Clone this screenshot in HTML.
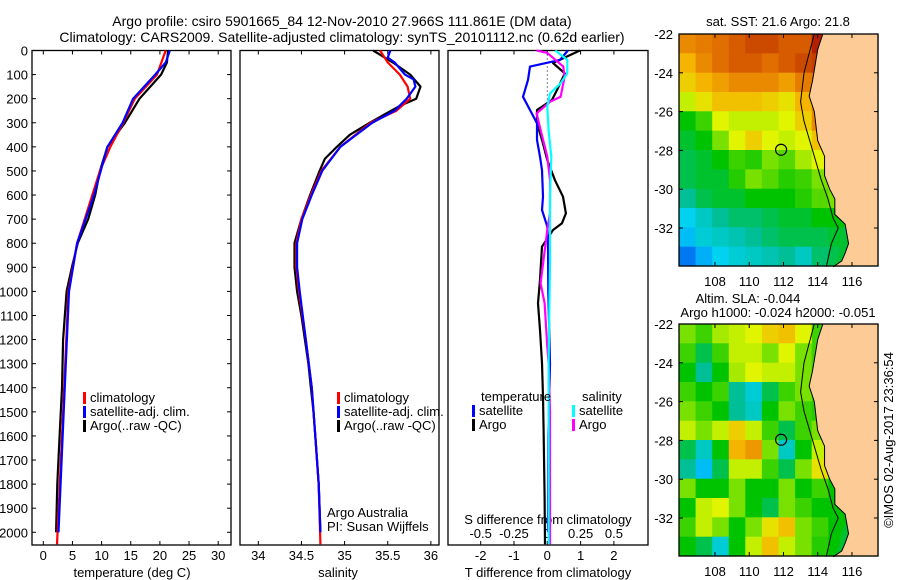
<!DOCTYPE html>
<html><head><meta charset="utf-8"><style>
html,body{margin:0;padding:0;background:#fff;}
svg{display:block;font-family:"Liberation Sans",sans-serif;}
text{fill:#000;}
</style></head><body>
<svg id="fig" width="900" height="580" viewBox="0 0 900 580" xmlns="http://www.w3.org/2000/svg">
<rect x="0" y="0" width="900" height="580" fill="#fff"/>
<text x="342" y="26" font-size="14" text-anchor="middle">Argo profile: csiro 5901665_84 12-Nov-2010 27.966S 111.861E (DM data)</text>
<text x="342" y="42" font-size="14" text-anchor="middle">Climatology: CARS2009. Satellite-adjusted climatology: synTS_20101112.nc (0.62d earlier)</text>
<g id="g1"></g>
<g id="g2"></g>
<g id="g3"></g>
<g id="m1"></g>
<g id="m2"></g>
<text transform="translate(893,440) rotate(-90)" font-size="13" text-anchor="middle">©IMOS 02-Aug-2017 23:36:54</text>
</svg>
<script>
// ---- profile data ----
const tempClimDepth = [0,100,200,300,400,500,800,1000,1500,2050];
const tempClim = [21.0,19.5,15.7,13.7,11.5,9.7,5.8,4.3,3.4,2.35];
const tempSatDepth = [0,50,100,200,300,400,600,800,1000,1500,2000];
const tempSat = [21.7,21.0,19.2,15.4,13.6,11.0,8.7,5.8,4.4,3.5,2.6];
const tempArgoDepth = [0,50,100,200,300,400,500,600,700,800,900,1000,1200,1400,1600,1800,2000];
const tempArgo = [21.4,21.2,20.2,16.5,14.0,11.0,9.7,8.9,7.7,5.9,4.9,4.0,3.4,3.2,2.8,2.4,2.2];

const salClimDepth = [0,50,100,150,200,250,300,400,500,600,700,800,900,1000,1200,1400,1600,1800,2050];
const salClim = [35.41,35.5,35.64,35.73,35.76,35.6,35.3,34.95,34.73,34.61,34.5,34.44,34.44,34.47,34.55,34.62,34.66,34.7,34.72];
const salSatDepth = [0,30,50,100,120,150,200,250,300,400,500,600,700,800,900,1000,1200,1400,1600,1800,2000];
const salSat = [35.53,35.5,35.58,35.7,35.8,35.82,35.72,35.58,35.32,34.95,34.74,34.62,34.51,34.45,34.45,34.48,34.55,34.62,34.66,34.7,34.72];
const salArgoDepth = [0,50,100,150,200,230,270,300,350,400,450,500,600,700,800,900,1000,1100,1200,1300,1400,1500,1600,1700,1800,1900,2000];
const salArgo = [35.33,35.56,35.76,35.88,35.83,35.64,35.44,35.29,35.06,34.91,34.77,34.71,34.6,34.5,34.42,34.42,34.45,34.5,34.54,34.58,34.61,34.64,34.66,34.68,34.7,34.71,34.72];

const dTSatDepth = [0,39,67,122,192,247,302,371,441,496,607,662,731,800,1000,1300,1600,2000];
const dTSat = [0.62,0.38,-0.52,-0.58,-0.73,-0.52,-0.31,-0.31,-0.22,-0.16,-0.13,-0.16,0,0.02,0.03,0.08,0.03,0.02];
const dTArgoDepth = [0,52,95,164,205,247,302,371,455,539,607,676,717,745,814,952,1049,1160,1297,1438,1576,1853,2050];
const dTArgo = [0.98,0.17,0.53,0.29,0.14,-0.31,-0.31,-0.16,0,0.23,0.47,0.56,0.44,0.17,-0.16,-0.22,-0.28,-0.22,-0.16,-0.13,-0.11,-0.08,-0.07];
const dSSatDepth = [0,39,95,136,178,233,330,441,607,883,1297,1600,2050];
const dSSat = [0.06,0.15,0.15,0.1,0.02,0,0.01,0.03,0.02,0.02,0.01,0.01,0.01];
const dSArgoDepth = [0,10,67,109,192,213,261,330,441,539,676,745,966,1049,1230,1300,1500,2050];
const dSArgo = [-0.08,0,0.12,0.13,0.1,0.02,-0.08,-0.05,0,0.02,0.02,0,-0.05,-0.02,0,0.01,0.02,0.02];

const depthTicks = [0,100,200,300,400,500,600,700,800,900,1000,1100,1200,1300,1400,1500,1600,1700,1800,1900,2000];
const tempTicks = [0,5,10,15,20,25,30];
const salTicks = [34,34.5,35,35.5,36];
const dTTicks = [-2,-1,0,1,2];
const dSTicks = [-0.5,-0.25,0,0.25,0.5];
const dSTickLabels = ["-0.5","-0.25","0","0.25","0.5"];

// ---- map data (rows lat -22 -> -34, cols lon 105.9 -> 116) normalized colour values ----
const sstGrid = [
[.78,.8,.82,.85,.88,.88,.85,.85,.95,.98,1,1],
[.72,.78,.82,.85,.85,.82,.85,.88,.9,.95,1,1],
[.68,.72,.75,.78,.78,.78,.75,.8,.82,.9,.95,1],
[.6,.65,.7,.7,.7,.68,.65,.72,.78,.75,.6,.5],
[.45,.5,.62,.6,.6,.6,.62,.68,.78,.75,.6,.5],
[.42,.45,.55,.62,.68,.62,.6,.62,.7,.72,.5,.45],
[.4,.42,.45,.5,.48,.55,.52,.58,.62,.65,.45,.42],
[.4,.42,.42,.48,.55,.52,.48,.5,.55,.6,.42,.4],
[.35,.4,.42,.42,.45,.45,.45,.48,.52,.55,.42,.4],
[.25,.3,.35,.38,.38,.4,.42,.42,.45,.45,.4,.38],
[.22,.28,.3,.32,.35,.38,.4,.4,.4,.42,.38,.36],
[.12,.2,.25,.28,.3,.32,.35,.3,.38,.4,.38,.36]];
const slaGrid = [
[.55,.5,.58,.6,.62,.68,.7,.62,.5,.45,.45,.45],
[.5,.4,.5,.6,.6,.55,.62,.55,.5,.45,.45,.45],
[.45,.35,.45,.58,.62,.6,.6,.55,.5,.45,.45,.45],
[.5,.45,.5,.35,.28,.4,.5,.55,.5,.45,.45,.45],
[.55,.5,.45,.35,.3,.45,.55,.5,.48,.45,.45,.45],
[.6,.55,.6,.68,.6,.5,.4,.5,.55,.45,.45,.45],
[.4,.3,.45,.72,.76,.55,.3,.45,.6,.5,.45,.45],
[.35,.22,.4,.6,.6,.5,.4,.55,.65,.55,.45,.45],
[.55,.45,.45,.55,.45,.45,.55,.45,.5,.45,.45,.45],
[.45,.6,.62,.55,.45,.4,.55,.5,.45,.45,.45,.45],
[.5,.6,.55,.45,.55,.65,.7,.55,.5,.45,.45,.45],
[.45,.4,.28,.45,.6,.7,.6,.55,.48,.45,.45,.45]];
const coastLon = [114.3,114.0,113.7,113.5,113.8,114.0,114.4,114.4,114.7,115.0,115.0,115.6,115.7,115.8,115.6,115.4,114.9];
const coastLat = [-22,-22.8,-24.4,-25.2,-26,-27.5,-28.3,-29.3,-30,-30.5,-31.3,-31.8,-32.3,-32.8,-33.3,-33.7,-34];
const shelfLon = [113.8,113.5,113.2,113.0,113.2,113.7,114.2,114.6,114.9,115.2,114.8,114.5];
const shelfLat = [-22,-23,-24,-25.5,-26.5,-28,-29.5,-30.5,-31.5,-32,-32.8,-34];
const latTicks = [-22,-24,-26,-28,-30,-32];
const lonTicks = [108,110,112,114,116];
const argoLon = 111.861, argoLat = -27.966;

const NS = "http://www.w3.org/2000/svg";
function mk(parent, tag, attrs, txt){const e=document.createElementNS(NS,tag);for(const k in attrs)e.setAttribute(k,attrs[k]);if(txt!==undefined)e.textContent=txt;parent.appendChild(e);return e;}
const Y0=50.5, Y1=545, yD=d=>Y0+0.2409*d;

function panel(g,x0,x1){
  const r=mk(g,'rect',{x:x0,y:Y0,width:x1-x0,height:Y1-Y0,fill:'none',stroke:'#000','stroke-width':1.3});
  
  
}
function line(g,xs,ds,sx,col,name,w){
  const pts=xs.map((v,i)=>sx(v).toFixed(1)+','+yD(ds[i]).toFixed(1)).join(' ');
  const p=mk(g,'polyline',{points:pts,fill:'none',stroke:col,'stroke-width':w||2.2,'stroke-linejoin':'round'});
  
  
}
function xTicks(g,vals,labels,sx,y,top,fs){
  vals.forEach((v,i)=>{
    const x=sx(v);
    mk(g,'line',{x1:x,x2:x,y1:Y1,y2:Y1-4,stroke:'#000'});
    if(top) mk(g,'line',{x1:x,x2:x,y1:Y0,y2:Y0+4,stroke:'#000'});
    const t=mk(g,'text',{x:x,y:y,'font-size':fs||13,'text-anchor':'middle'},labels[i]);
    
    
  });
}
function legend(g,x,y,items){
  items.forEach((it,i)=>{
    mk(g,'rect',{x:x,y:y+i*14-10,width:3,height:12,fill:it[0]});
    const t=mk(g,'text',{x:x+7,y:y+i*14,'font-size':13},it[1]);
    
    
  });
}

// Panel 1 temperature
const g1=document.getElementById('g1');
const sxT=v=>43.3+5.83*v;
panel(g1,32,231);
depthTicks.forEach(d=>{
  mk(g1,'line',{x1:32,x2:36,y1:yD(d),y2:yD(d),stroke:'#000'});
  mk(g1,'line',{x1:231,x2:227,y1:yD(d),y2:yD(d),stroke:'#000'});
  const t=mk(g1,'text',{x:28,y:yD(d)+5,'font-size':13,'text-anchor':'end'},String(d));
  
  
});
xTicks(g1,tempTicks,tempTicks.map(String),sxT,560,true);
mk(g1,'text',{x:132,y:577,'font-size':13,'text-anchor':'middle'},'temperature (deg C)');
line(g1,tempArgo,tempArgoDepth,sxT,'#000','temp-argo-line');
line(g1,tempClim,tempClimDepth,sxT,'#f00','temp-clim-line');
line(g1,tempSat,tempSatDepth,sxT,'#00f','temp-sat-line');
legend(g1,83,402,[['#f00','climatology'],['#00f','satellite-adj. clim.'],['#000','Argo(..raw -QC)']]);

// Panel 2 salinity
const g2=document.getElementById('g2');
const sxS=v=>258.3+86.3*(v-34);
panel(g2,240,439);
xTicks(g2,salTicks,['34','34.5','35','35.5','36'],sxS,560,true);
mk(g2,'text',{x:338,y:577,'font-size':13,'text-anchor':'middle'},'salinity');
line(g2,salArgo,salArgoDepth,sxS,'#000','sal-argo-line');
line(g2,salClim,salClimDepth,sxS,'#f00','sal-clim-line');
line(g2,salSat,salSatDepth,sxS,'#00f','sal-sat-line');
legend(g2,337,402,[['#f00','climatology'],['#00f','satellite-adj. clim.'],['#000','Argo(..raw -QC)']]);
mk(g2,'text',{x:327,y:517,'font-size':13},'Argo Australia');
mk(g2,'text',{x:327,y:531,'font-size':13},'PI: Susan Wijffels');

// Panel 3 differences
const g3=document.getElementById('g3');
const sxDT=v=>547.3+33.3*v, sxDS=v=>547.3+133.3*v;
panel(g3,448,648);
mk(g3,'line',{x1:547.3,x2:547.3,y1:Y0,y2:yD(230),stroke:'#000','stroke-dasharray':'1,3'});
xTicks(g3,dTTicks,dTTicks.map(String),sxDT,560,true);
mk(g3,'text',{x:548,y:577,'font-size':13,'text-anchor':'middle'},'T difference from climatology');
dSTicks.forEach((v,i)=>{const t=mk(g3,'text',{x:sxDS(v),y:538,'font-size':13,'text-anchor':'middle'},dSTickLabels[i]);});
mk(g3,'text',{x:548,y:524,'font-size':13,'text-anchor':'middle'},'S difference from climatology');
line(g3,dTArgo,dTArgoDepth,sxDT,'#000','dT-argo-line');
line(g3,dTSat,dTSatDepth,sxDT,'#00f','dT-sat-line');
line(g3,dSArgo,dSArgoDepth,sxDS,'#f0f','dS-argo-line');
line(g3,dSSat,dSSatDepth,sxDS,'#0ff','dS-sat-line');
mk(g3,'text',{x:481,y:401,'font-size':13},'temperature');
legend(g3,472,415,[['#00f','satellite'],['#000','Argo']]);
mk(g3,'text',{x:582,y:401,'font-size':13},'salinity');
legend(g3,572,415,[['#0ff','satellite'],['#f0f','Argo']]);

// colormap
const stops=[[0,[0,40,190]],[0.15,[0,140,255]],[0.25,[0,210,240]],[0.35,[0,190,150]],[0.45,[0,195,0]],[0.55,[120,225,0]],[0.62,[225,245,0]],[0.72,[245,180,0]],[0.82,[225,110,0]],[0.92,[190,50,0]],[1,[160,0,0]]];
function cmap(v){for(let i=1;i<stops.length;i++){if(v<=stops[i][0]){const a=stops[i-1],b=stops[i],f=(v-a[0])/(b[0]-a[0]);return 'rgb('+a[1].map((c,k)=>Math.round(c+f*(b[1][k]-c))).join(',')+')';}}return 'rgb(160,0,0)';}

function drawMap(g,top,grid){
  const L=679,R=878,B=top+232;
  const sx=lon=>L+(lon-105.9)*17.125, sy=lat=>top+(-22-lat)*19.4;
  const cw=(R-L)/12, ch=(B-top)/12;
  grid.forEach((row,r)=>row.forEach((v,c)=>{
    const cell=mk(g,'rect',{x:(L+c*cw).toFixed(1),y:(top+r*ch).toFixed(1),width:(cw+0.6).toFixed(1),height:(ch+0.6).toFixed(1),fill:cmap(v)});
    
    
  }));
  // coastal shelf strip (south)
  let strip=[];
  for(let i=0;i<coastLat.length;i++) if(coastLat[i]<=-26.5) strip.push(sx(coastLon[i])+','+sy(coastLat[i]));
  for(let i=shelfLat.length-1;i>=0;i--) if(shelfLat[i]<=-27.5) strip.push((sx(shelfLon[i])+10)+','+sy(shelfLat[i]));
  mk(g,'polygon',{points:strip.join(' '),fill:'#00c030'});
  // land
  const land=coastLon.map((lo,i)=>sx(lo)+','+sy(coastLat[i]));
  land.push(R+','+B); land.push(R+','+top);
  const lp=mk(g,'polygon',{points:land.join(' '),fill:'#fccb96'});
  
  
  mk(g,'polyline',{points:coastLon.map((lo,i)=>sx(lo)+','+sy(coastLat[i])).join(' '),fill:'none',stroke:'#000','stroke-width':1});
  mk(g,'polyline',{points:shelfLon.map((lo,i)=>sx(lo)+','+sy(shelfLat[i])).join(' '),fill:'none',stroke:'#000','stroke-width':1});
  mk(g,'rect',{x:L,y:top,width:R-L,height:B-top,fill:'none',stroke:'#000','stroke-width':1.3});
  latTicks.forEach(la=>{const y=sy(la);mk(g,'line',{x1:L,x2:L+4,y1:y,y2:y,stroke:'#000'});mk(g,'line',{x1:R,x2:R-4,y1:y,y2:y,stroke:'#000'});
    const t=mk(g,'text',{x:L-6,y:y+5,'font-size':13,'text-anchor':'end'},String(la));});
  lonTicks.forEach(lo=>{const x=sx(lo);mk(g,'line',{x1:x,x2:x,y1:B,y2:B-4,stroke:'#000'});mk(g,'line',{x1:x,x2:x,y1:top,y2:top+4,stroke:'#000'});
    const t=mk(g,'text',{x:x,y:B+20,'font-size':13,'text-anchor':'middle'},String(lo));});
  const c=mk(g,'circle',{cx:sx(argoLon),cy:sy(argoLat),r:5.5,fill:'none',stroke:'#000','stroke-width':1.2});
  
  
}
const m1=document.getElementById('m1'), m2=document.getElementById('m2');
drawMap(m1,34,sstGrid);
drawMap(m2,324,slaGrid);
mk(m1,'text',{x:778,y:26,'font-size':13,'text-anchor':'middle'},'sat. SST: 21.6 Argo: 21.8');
mk(m2,'text',{x:748,y:303,'font-size':13,'text-anchor':'middle'},'Altim. SLA: -0.044');
mk(m2,'text',{x:778,y:317,'font-size':13,'text-anchor':'middle'},'Argo h1000: -0.024 h2000: -0.051');
</script>
</body></html>
